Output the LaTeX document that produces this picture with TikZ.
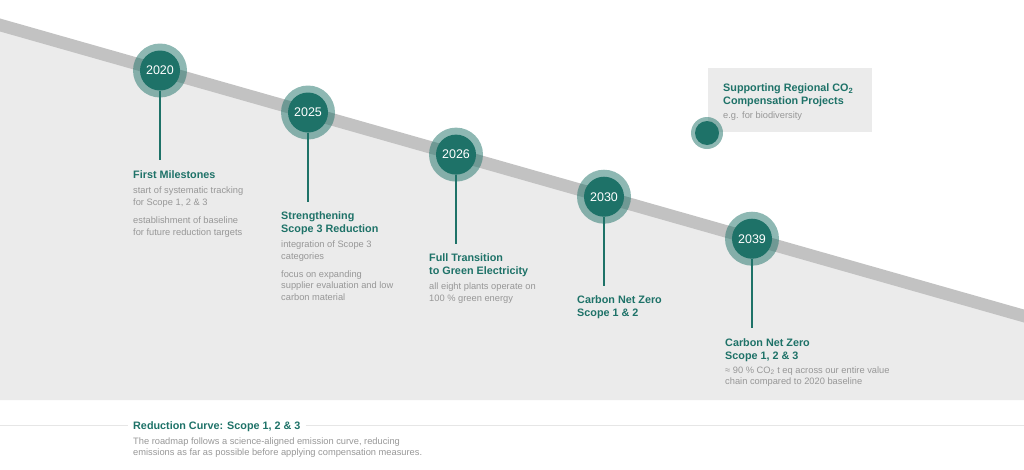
\documentclass[tikz,border=0pt]{standalone}
\usepackage{fontspec}
\setmainfont{Liberation Sans}
\usepackage{xcolor}
\usepackage{tikz}
\usetikzlibrary{positioning}
\definecolor{petrol}{HTML}{1E7268}
\definecolor{band}{HTML}{C2C2C2}
\definecolor{paper}{HTML}{EBEBEB}
\definecolor{notegray}{HTML}{979797}
\definecolor{rulegray}{HTML}{E6E6E6}

\begin{document}
\begin{tikzpicture}[x=1pt,y=-1pt,
      ring/.style={circle,fill=petrol,fill opacity=.5,minimum size=54pt,inner sep=0pt},
      yearbox/.style={circle,fill=petrol,text=white,minimum size=40pt,inner sep=0pt,font=\fontsize{12.5pt}{14pt}\selectfont},
      stem/.style={petrol,line width=2.5pt},
      headline/.style={anchor=north west,inner sep=0pt,align=left,text=petrol,
        font=\bfseries\fontsize{10.8pt}{13pt}\selectfont,execute at begin node=\strut,execute at end node=\strut},
      note/.style={anchor=north west,inner sep=0pt,align=left,text=notegray,
        font=\fontsize{9.3pt}{11.6pt}\selectfont,execute at begin node=\strut,execute at end node=\strut},
      infobox/.style={fill=paper,minimum width=164pt,minimum height=64pt,inner sep=0pt,anchor=north west},
      rule/.style={rulegray,line width=1.3pt}]
      \useasboundingbox (0,0) rectangle (1024,469);
      % reduction curve
      \fill[paper] (0,25) -- (1024,316) -- (1024,400) -- (0,400) -- cycle;
      \begin{scope}
        \clip (0,0) rectangle (1024,469);
        \draw[band,line width=12.5pt] (-20,19.3) -- (1044,321.7);
      \end{scope}
      % milestones
      \node[ring] (r2020) at (160,70.5) {};
      \node[yearbox] (y2020) at (r2020) {2020};
      \coordinate (s2020) at ([yshift=-89pt]r2020.center);
      \draw[stem] (y2020) -- (s2020);
      \node[headline] (h2020) at ([xshift=-27pt,yshift=-9.5pt]s2020) {First Milestones};
      \node[note,below=4.5pt of h2020.south west,anchor=north west] (n2020) {start of systematic tracking\\for Scope 1, 2 \& 3\\[6.5pt]establishment of baseline\\for future reduction targets};

      \node[ring] (r2025) at (308,112.5) {};
      \node[yearbox] (y2025) at (r2025) {2025};
      \coordinate (s2025) at ([yshift=-89pt]r2025.center);
      \draw[stem] (y2025) -- (s2025);
      \node[headline] (h2025) at ([xshift=-27pt,yshift=-9.5pt]s2025) {Strengthening\\Scope 3 Reduction};
      \node[note,below=4.5pt of h2025.south west,anchor=north west] (n2025) {integration of Scope 3\\categories\\[6.5pt]focus on expanding\\supplier evaluation and low\\carbon material};

      \node[ring] (r2026) at (456,154.6) {};
      \node[yearbox] (y2026) at (r2026) {2026};
      \coordinate (s2026) at ([yshift=-89pt]r2026.center);
      \draw[stem] (y2026) -- (s2026);
      \node[headline] (h2026) at ([xshift=-27pt,yshift=-9.5pt]s2026) {Full Transition\\to Green Electricity};
      \node[note,below=4.5pt of h2026.south west,anchor=north west] (n2026) {all eight plants operate on\\100 \% green energy};

      \node[ring] (r2030) at (604,196.7) {};
      \node[yearbox] (y2030) at (r2030) {2030};
      \coordinate (s2030) at ([yshift=-89pt]r2030.center);
      \draw[stem] (y2030) -- (s2030);
      \node[headline] (h2030) at ([xshift=-27pt,yshift=-9.5pt]s2030) {Carbon Net Zero\\Scope 1 \& 2};

      \node[ring] (r2039) at (752,238.7) {};
      \node[yearbox] (y2039) at (r2039) {2039};
      \coordinate (s2039) at ([yshift=-89pt]r2039.center);
      \draw[stem] (y2039) -- (s2039);
      \node[headline] (h2039) at ([xshift=-27pt,yshift=-10.5pt]s2039) {Carbon Net Zero\\Scope 1, 2 \& 3};
      \node[note,below=3pt of h2039.south west,anchor=north west] (n2039) {≈ 90 \% CO\textsubscript{2} t eq across our entire value\\chain compared to 2020 baseline};

      % compensation box
      \node[infobox] (cbox) at (708,68) {};
      \node[headline] (ctitle) at ([xshift=15pt,yshift=-15.5pt]cbox.north west) {Supporting Regional CO\textsubscript{2}\\Compensation Projects};
      \node[note,below=2pt of ctitle.south west,anchor=north west] (cnote) {e.g. for biodiversity};
      \node[ring,minimum size=32pt] (rcomp) at (707,133) {};
      \node[yearbox,minimum size=24pt] (dcomp) at (rcomp) {};

      % legend
      \node[anchor=base west,inner xsep=5pt,text=petrol,font=\bfseries\fontsize{10.8pt}{13pt}\selectfont] (ltitle) at (128,429.3) {Reduction Curve: Scope 1, 2 \& 3};
      \coordinate (lleft) at (0,425.7);
      \coordinate (lright) at (1024,425.7);
      \draw[rule] (lleft) -- (ltitle.west |- lleft);
      \draw[rule] (ltitle.east |- lright) -- (lright);
      \node[note,below=2pt of ltitle.south west,anchor=north west,xshift=5pt] (lnote) {The roadmap follows a science-aligned emission curve, reducing\\emissions as far as possible before applying compensation measures.};
    \end{tikzpicture}
\end{document}
